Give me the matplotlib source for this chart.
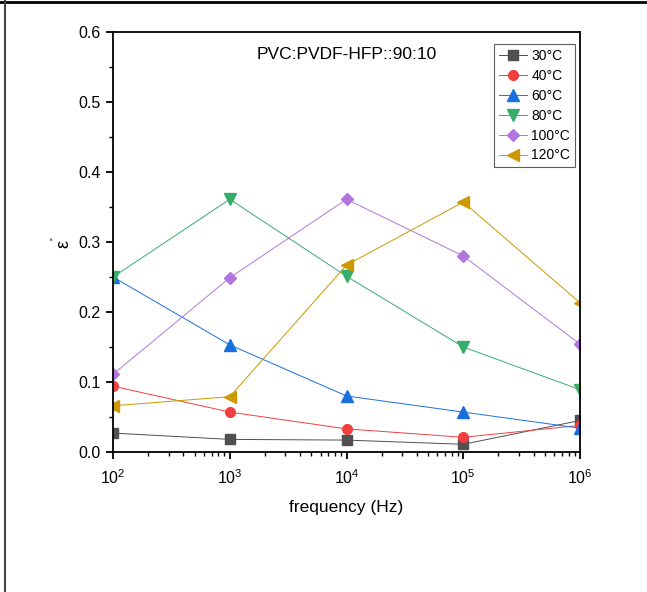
import matplotlib
matplotlib.use("Agg")
import matplotlib.pyplot as plt
from matplotlib.ticker import LogLocator, MultipleLocator, NullFormatter
from matplotlib.lines import Line2D

plt.rcParams['font.family'] = ['Liberation Sans', 'DejaVu Sans']
plt.rcParams['mathtext.fontset'] = 'custom'
plt.rcParams['mathtext.rm'] = 'Liberation Sans'
plt.rcParams['mathtext.it'] = 'Liberation Sans'

frequency = [1e2, 1e3, 1e4, 1e5, 1e6]
eps_30 = [0.027, 0.018, 0.017, 0.011, 0.045]
eps_40 = [0.094, 0.057, 0.033, 0.021, 0.038]
eps_60 = [0.250, 0.153, 0.080, 0.057, 0.034]
eps_80 = [0.250, 0.361, 0.251, 0.150, 0.089]
eps_100 = [0.111, 0.249, 0.361, 0.280, 0.154]
eps_120 = [0.066, 0.079, 0.267, 0.357, 0.213]
labels = ["30°C", "40°C", "60°C", "80°C", "100°C", "120°C"]

series = [eps_30, eps_40, eps_60, eps_80, eps_100, eps_120]
colors = ["#515151", "#F14040", "#1A6FDF", "#37AD6B", "#B177DE", "#CC9900"]
markers = ["s", "o", "^", "v", "D", "<"]
sizes = [7, 7, 8, 8, 6, 8]

fig = plt.figure(figsize=(6.47, 5.92), dpi=100)
ax = fig.add_axes([0.1747, 0.2365, 0.7218, 0.7095])

for vals, c, m, s, lab in zip(series, colors, markers, sizes, labels):
	ax.plot(frequency, vals, color=c, marker=m, markersize=s, linewidth=0.7, label=lab)

ax.set_xscale("log")
ax.set_xlim(1e2, 1e6)
ax.set_ylim(0, 0.6)
ax.yaxis.set_major_locator(MultipleLocator(0.1))
ax.yaxis.set_minor_locator(MultipleLocator(0.05))
ax.yaxis.set_major_formatter(plt.FuncFormatter(lambda v, p: "%.1f" % v))
ax.xaxis.set_major_locator(LogLocator(base=10))
ax.xaxis.set_minor_locator(LogLocator(base=10, subs=range(2, 10)))
ax.xaxis.set_minor_formatter(NullFormatter())

for side in ax.spines.values():
	side.set_linewidth(1.3)
ax.tick_params(which="major", direction="out", length=5, width=1.3, labelsize=11.5, pad=4)
ax.tick_params(which="minor", direction="out", length=3, width=1.0)
ax.tick_params(axis="x", which="major", pad=7)

ax.set_xlabel("frequency (Hz)", fontsize=12.5, labelpad=9)
ax.set_ylabel(r"ε$^{''}$", fontsize=13, labelpad=3)
ax.text(0.5, 0.965, "PVC:PVDF-HFP::90:10", transform=ax.transAxes, ha="center", va="top", fontsize=12.5)

leg = ax.legend(loc="upper right", bbox_to_anchor=(0.995, 0.977), fontsize=10, frameon=True,
	fancybox=False, edgecolor="#333333", handlelength=2.0, handletextpad=0.3,
	labelspacing=0.42, borderpad=0.35, borderaxespad=0.2)
leg.get_frame().set_linewidth(0.8)

# page border lines
fig.add_artist(Line2D([0, 1], [0.996, 0.996], transform=fig.transFigure, color="black", linewidth=2))
fig.add_artist(Line2D([0.008, 0.008], [0, 1], transform=fig.transFigure, color="#444444", linewidth=1.5))

fig.savefig("out.png", dpi=100)
